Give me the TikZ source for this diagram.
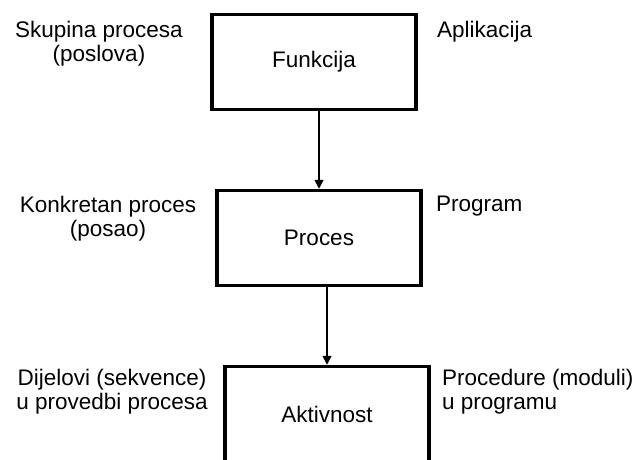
\documentclass[tikz,border=0pt]{standalone}
\usepackage{fontspec}
\setmainfont{Liberation Sans}
\usetikzlibrary{arrows.meta}
\tikzset{stagebox/.style={draw,line width=3.5pt,minimum width=204pt,minimum height=95pt,inner sep=0pt}}
\tikzset{lnote/.style={align=center,anchor=base,inner sep=0pt}}
\tikzset{rnote/.style={align=left,anchor=base west,inner sep=0pt}}
\tikzset{flow/.style={-{Triangle[length=9pt,width=9pt]},line width=1.5pt}}

\begin{document}
\begin{tikzpicture}[x=1pt,y=-1pt,font=\fontsize{22.5}{24}\selectfont]
  \useasboundingbox (0,0) rectangle (637,459);
  \clip (0,0) rectangle (637,459);

  % the three levels
  \node[stagebox] (funk) at (314,62) {Funkcija};
  \node[stagebox] (proc) at (319,238) {Proces};
  \node[stagebox] (akt) at (327,414) {Aktivnost};

  % left side: business view (anchored on the last line)
  \node[lnote] (lfunk) at (99,61) {Skupina procesa\\(poslova)};
  \node[lnote] (lproc) at (108,236) {Konkretan proces\\(posao)};
  \node[lnote] (lakt) at (112,409) {Dijelovi (sekvence)\\u provedbi procesa};

  % right side: software view
  \node[rnote] (rfunk) at (437,37) {Aplikacija};
  \node[rnote] (rproc) at (436,211) {Program};
  \node[rnote] (rakt) at (442,409) {Procedure (moduli)\\u programu};

  \draw[flow] (funk.south -| proc.north) -- (proc.north);
  \draw[flow] (proc.south -| akt.north) -- (akt.north);
\end{tikzpicture}
\end{document}
